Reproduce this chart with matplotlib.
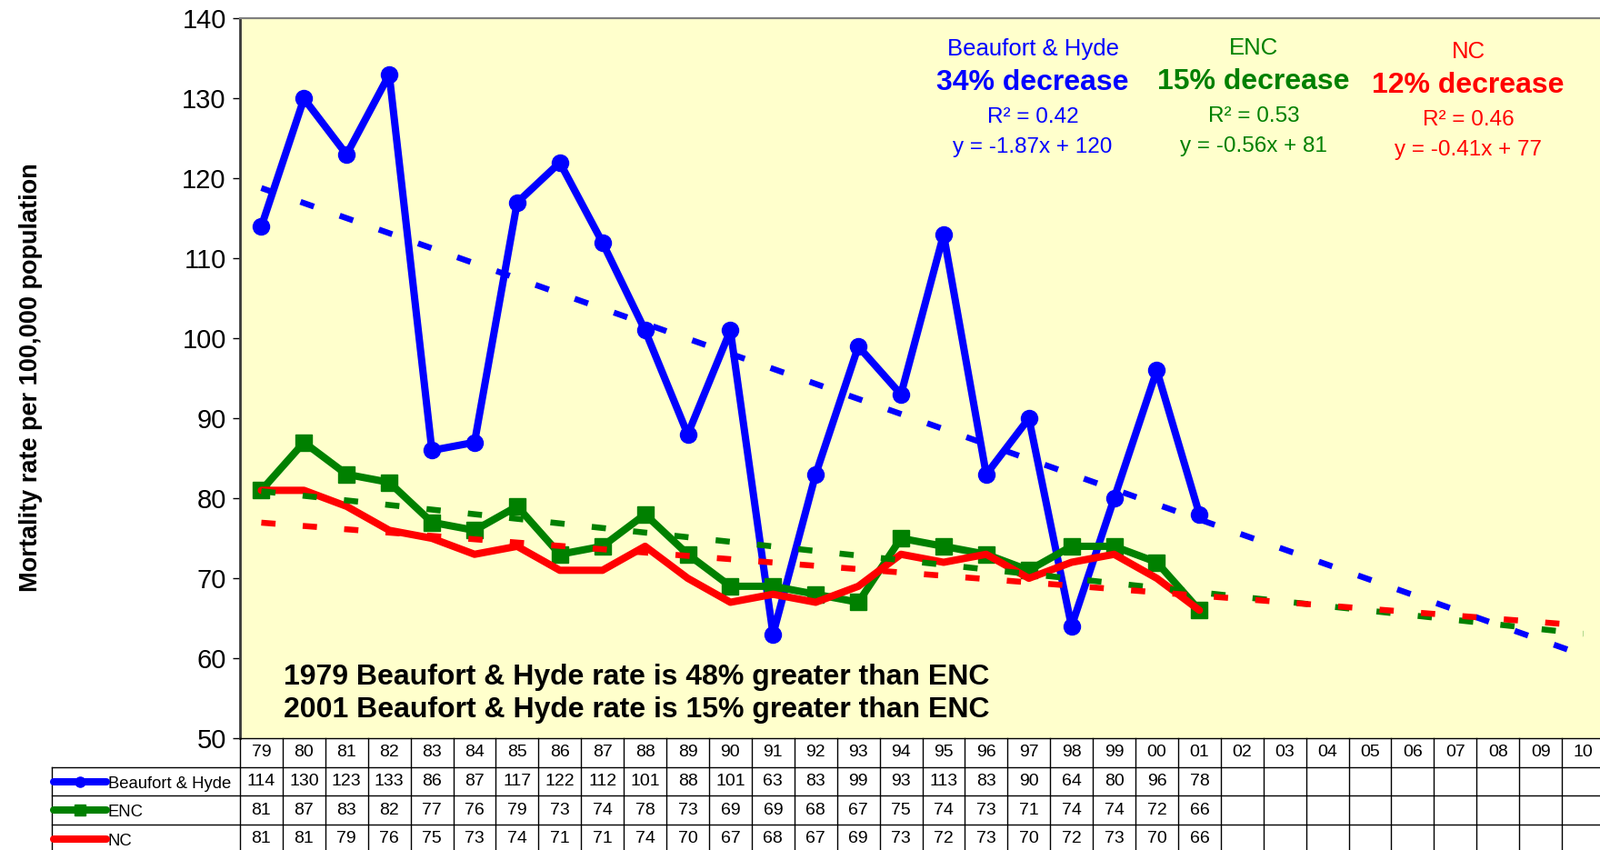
import numpy as np
import matplotlib
matplotlib.use('Agg')
import matplotlib.pyplot as plt
from matplotlib.transforms import blended_transform_factory

# ---------------- data ----------------
years = ['79', '80', '81', '82', '83', '84', '85', '86', '87', '88', '89', '90',
         '91', '92', '93', '94', '95', '96', '97', '98', '99', '00', '01', '02',
         '03', '04', '05', '06', '07', '08', '09', '10']
series_names = ['Beaufort & Hyde', 'ENC', 'NC']
bh = [114, 130, 123, 133, 86, 87, 117, 122, 112, 101, 88, 101, 63, 83, 99, 93,
      113, 83, 90, 64, 80, 96, 78]
enc = [81, 87, 83, 82, 77, 76, 79, 73, 74, 78, 73, 69, 69, 68, 67, 75, 74, 73,
       71, 74, 74, 72, 66]
nc = [81, 81, 79, 76, 75, 73, 74, 71, 71, 74, 70, 67, 68, 67, 69, 73, 72, 73,
      70, 72, 73, 70, 66]
decrease_labels = ['34% decrease', '15% decrease', '12% decrease']
r2_labels = ['R\u00b2 = 0.42', 'R\u00b2 = 0.53', 'R\u00b2 = 0.46']
eq_labels = ['y = -1.87x + 120', 'y = -0.56x + 81', 'y = -0.41x + 77']
note_lines = ['1979 Beaufort & Hyde rate is 48% greater than ENC',
              '2001 Beaufort & Hyde rate is 15% greater than ENC']
ylabel = 'Mortality rate per 100,000 population'

colors = ['#0000FF', '#008000', '#FF0000']
markers = ['o', 's', None]

plt.rcParams['font.family'] = ['Liberation Sans', 'DejaVu Sans']

W, H = 1760, 935
fig = plt.figure(figsize=(W / 100, H / 100), dpi=100)
L, R, T, B = 264, 1765, 20.5, 812
ax = fig.add_axes([L / W, 1 - B / H, (R - L) / W, (B - T) / H])
ax.set_facecolor('#FFFFCC')

def fpx(x, y):
    return x / W, 1 - y / H

data = [bh, enc, nc]
x_all = np.arange(len(years))

# series lines
for vals, c, m in zip(data, colors, markers):
    xs = np.arange(len(vals))
    ax.plot(xs, vals, color=c, lw=5.8, marker=m, ms=13, mec=c, mfc=c,
            solid_joinstyle='round', solid_capstyle='round', zorder=3)

# linear trend lines (least squares, forecast to 2010)
for vals, c in zip(data, colors):
    k, b0 = np.polyfit(np.arange(1, len(vals) + 1), vals, 1)
    ax.plot(x_all, k * (x_all + 1) + b0, color=c, lw=4.7,
            dashes=(2.4, 4.6), dash_capstyle='butt', zorder=4)

ax.set_xlim(-0.5, len(years) - 0.5)
ax.set_ylim(50, 140)
ax.set_yticks(np.arange(50, 141, 10))
ax.set_xticks([])
ax.tick_params(axis='y', direction='out', length=6, width=1, labelsize=21,
               pad=5, colors='black')
ax.spines['top'].set_color('#808080')
ax.spines['top'].set_linewidth(1.6)
ax.spines['left'].set_color('#3a3a3a')
ax.spines['left'].set_linewidth(2)
ax.spines['bottom'].set_color('black')
ax.spines['bottom'].set_linewidth(1)
ax.spines['right'].set_visible(False)

# ---------------- data table ----------------
trans = blended_transform_factory(ax.transData, ax.transAxes)
rh = 31.7 / (B - T)
colw = (R - L) / len(years)
xl = (57 - L) / colw - 0.5
n = len(years)
lk = dict(transform=trans, clip_on=False, color='black', lw=1, zorder=5)
for i in range(n + 1):
    ax.plot([i - 0.5, i - 0.5], [0, -4 * rh], **lk)
ax.plot([xl, xl], [-rh, -4 * rh], **lk)
for r in range(1, 4):
    ax.plot([xl, n - 0.5], [-r * rh, -r * rh], **lk)
for i, yl in enumerate(years):
    ax.text(i, -0.5 * rh, yl, transform=trans, ha='center', va='center',
            fontsize=14, clip_on=False)
for r, (vals, name, c, m) in enumerate(zip(data, series_names, colors, markers)):
    yc = -(1.5 + r) * rh
    for i, v in enumerate(vals):
        ax.text(i, yc, f'{v:d}', transform=trans, ha='center', va='center',
                fontsize=14, clip_on=False)
    x0 = (59 - L) / colw - 0.5
    x1 = (117 - L) / colw - 0.5
    ax.plot([x0, x1], [yc, yc], transform=trans, clip_on=False, color=c,
            lw=5.8, solid_capstyle='round', zorder=6)
    if m is not None:
        ax.plot([(x0 + x1) / 2], [yc], transform=trans, clip_on=False,
                color=c, marker=m, ms=8, zorder=6)
    ax.text((119 - L) / colw - 0.5, yc - 0.08 * rh, name, transform=trans,
            ha='left', va='center', fontsize=13.3, clip_on=False)

# ---------------- annotations ----------------
ann_x = [1136, 1379, 1615]
ann_dy = [4, 3, 7]
for j in range(3):
    c = colors[j]
    x = ann_x[j]
    dy = ann_dy[j]
    fig.text(*fpx(x, 50 + dy), series_names[j], color=c, ha='center',
             va='center', fontsize=18.5)
    fig.text(*fpx(x, 87 + dy), decrease_labels[j], color=c, ha='center',
             va='center', fontsize=23, fontweight='bold')
    fig.text(*fpx(x, 125 + dy), r2_labels[j], color=c, ha='center',
             va='center', fontsize=17.5)
    fig.text(*fpx(x, 158 + dy), eq_labels[j], color=c, ha='center',
             va='center', fontsize=17.5)

for k, line in enumerate(note_lines):
    fig.text(*fpx(312, 745 + 36 * k), line, color='black', ha='left',
             va='center', fontsize=23, fontweight='bold')

fig.text(*fpx(34, 415), ylabel, rotation=90, ha='center', va='center',
         fontsize=19.5, fontweight='bold')

fig.savefig('out.png', dpi=100)
